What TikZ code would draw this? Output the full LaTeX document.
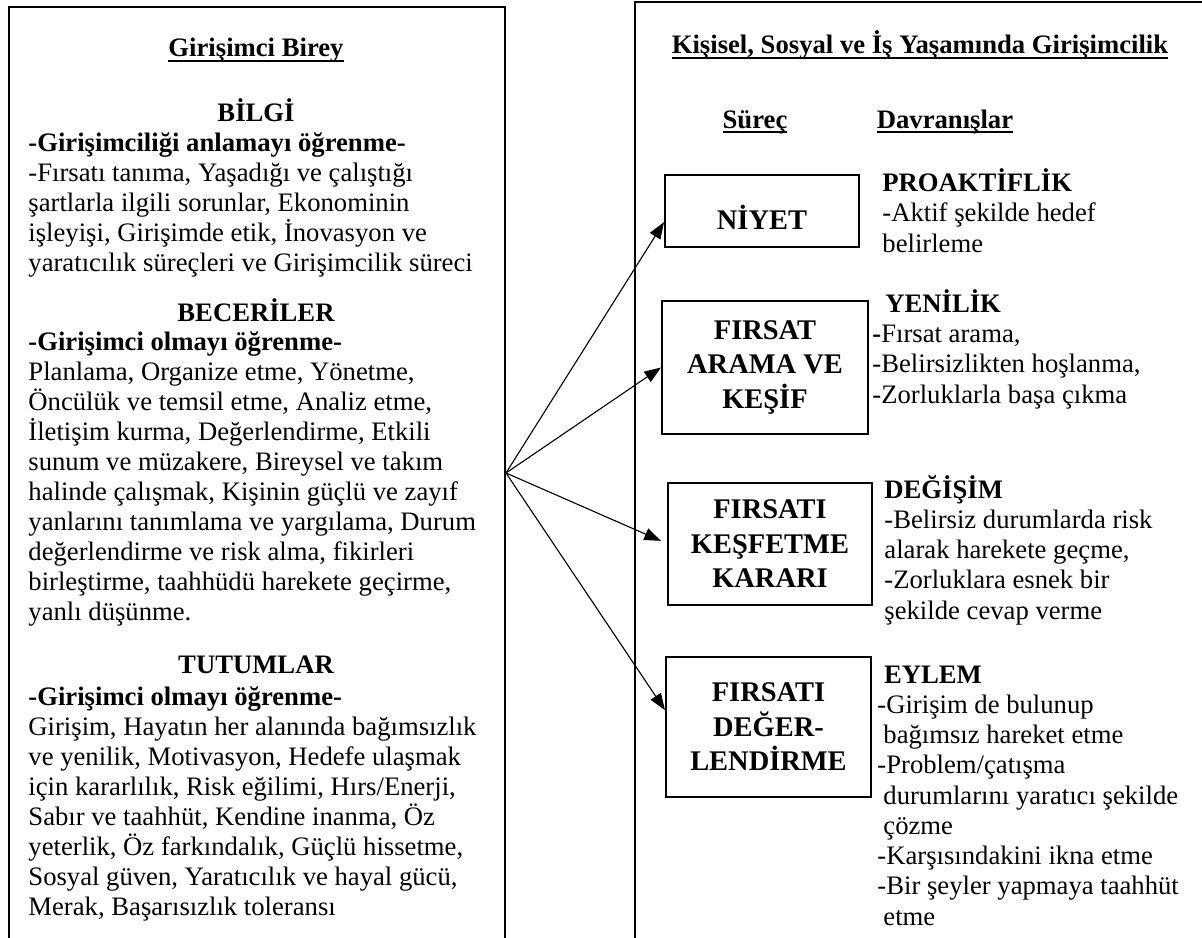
\documentclass[tikz,border=0pt]{standalone}
\usepackage{fontspec}
\setmainfont{Liberation Serif}
\usetikzlibrary{arrows.meta}
\newcommand{\px}{0.45pt}
\newcommand{\undl}[1]{\setbox0\hbox{#1}\rlap{\rule[-2.4pt]{\wd0}{0.9pt}}\box0}

\tikzset{
  frame/.style={draw,line width=0.9pt,inner sep=0pt,anchor=north west,minimum height=1100*\px},
  stage/.style={draw,line width=0.9pt,align=center,inner sep=0pt,font=\fontsize{12.8}{15.5}\selectfont\bfseries},
  txt/.style={align=left,anchor=base west,inner sep=0pt,font=\fontsize{12}{13.5}\selectfont},
  txtR/.style={txt,font=\fontsize{12}{13.6}\selectfont},
  head/.style={anchor=base,inner sep=0pt,font=\fontsize{12}{13.6}\selectfont\bfseries},
  arr/.style={-{Triangle[length=7.5pt,width=5.5pt]},line width=0.5pt}
}

\begin{document}
\begin{tikzpicture}[x=\px,y=-\px]
        \useasboundingbox (0,0) rectangle (1202,938);
        \clip (0,0) rectangle (1202,938);

        \node[frame,minimum width=496*\px] (birey) at (8,6) {};
        \node[frame,minimum width=700*\px] (yasam) at (634,1) {};

        \node[head] (bireyT) at (256,57) {\undl{Girişimci Birey}};
        \node[head] (bilgiH) at (256,121) {BİLGİ};
        \node[txt] (bilgi) at (28,271) {\textbf{-Girişimciliği anlamayı öğrenme-}\\
            -Fırsatı tanıma, Yaşadığı ve çalıştığı\\
            şartlarla ilgili sorunlar, Ekonominin\\
            işleyişi, Girişimde etik, İnovasyon ve\\
            yaratıcılık süreçleri ve Girişimcilik süreci};
        \node[head] (beceriH) at (256,321) {BECERİLER};
        \node[txt] (beceri) at (28,620) {\textbf{-Girişimci olmayı öğrenme-}\\
            Planlama, Organize etme, Yönetme,\\
            Öncülük ve temsil etme, Analiz etme,\\
            İletişim kurma, Değerlendirme, Etkili\\
            sunum ve müzakere, Bireysel ve takım\\
            halinde çalışmak, Kişinin güçlü ve zayıf\\
            yanlarını tanımlama ve yargılama, Durum\\
            değerlendirme ve risk alma, fikirleri\\
            birleştirme, taahhüdü harekete geçirme,\\
            yanlı düşünme.};
        \node[head] (tutumH) at (256,673) {TUTUMLAR};
        \node[txt] (tutum) at (28,915) {\textbf{-Girişimci olmayı öğrenme-}\\
            Girişim, Hayatın her alanında bağımsızlık\\
            ve yenilik, Motivasyon, Hedefe ulaşmak\\
            için kararlılık, Risk eğilimi, Hırs/Enerji,\\
            Sabır ve taahhüt, Kendine inanma, Öz\\
            yeterlik, Öz farkındalık, Güçlü hissetme,\\
            Sosyal güven, Yaratıcılık ve hayal gücü,\\
            Merak, Başarısızlık toleransı};

        \node[head] (yasamT) at (920,54) {\undl{Kişisel, Sosyal ve İş Yaşamında Girişimcilik}};
        \node[head] (surec) at (755,128) {\undl{Süreç}};
        \node[head] (davran) at (945,128) {\undl{Davranışlar}};

        \node[stage,minimum width=194*\px,minimum height=72*\px,text height=17pt,text depth=0pt] (niyet) at (762,211) {NİYET};
        \node[stage,minimum width=206*\px,minimum height=133*\px] (arama) at (765,367.5) {FIRSAT\\ARAMA VE\\KEŞİF};
        \node[stage,minimum width=204*\px,minimum height=122*\px] (kesfet) at (770,544) {FIRSATI\\KEŞFETME\\KARARI};
        \node[stage,minimum width=205*\px,minimum height=140*\px] (degerl) at (768.5,727) {FIRSATI\\DEĞER-\\LENDİRME};

        \node[txtR] (proakt) at (882,252) {\textbf{PROAKTİFLİK}\\-Aktif şekilde hedef\\belirleme};
        \node[txtR] (yenilik) at (872,403) {\hspace*{5.8pt}\textbf{YENİLİK}\\\textbf{-}Fırsat arama,\\-Belirsizlikten hoşlanma,\\-Zorluklarla başa çıkma};
        \node[txtR] (degisim) at (884,619) {\textbf{DEĞİŞİM}\\-Belirsiz durumlarda risk\\alarak harekete geçme,\\-Zorluklara esnek bir\\şekilde cevap verme};
        \node[txtR] (eylem) at (877,925) {\hspace*{3pt}\textbf{EYLEM}\\-Girişim de bulunup\\\hspace*{2.7pt}bağımsız hareket etme\\-Problem/çatışma\\\hspace*{2.7pt}durumlarını yaratıcı şekilde\\\hspace*{2.7pt}çözme\\-Karşısındakini ikna etme\\-Bir şeyler yapmaya taahhüt\\\hspace*{2.7pt}etme};

        \coordinate (src) at (506,473);
        \draw[arr] (src) -- ([yshift=-5pt]niyet.west);
        \draw[arr] (src) -- (arama.west);
        \draw[arr] (src) -- ([xshift=-2.7pt,yshift=1.4pt]kesfet.west);
        \draw[arr] (src) -- ([yshift=7.6pt]degerl.west);
\end{tikzpicture}
\end{document}
